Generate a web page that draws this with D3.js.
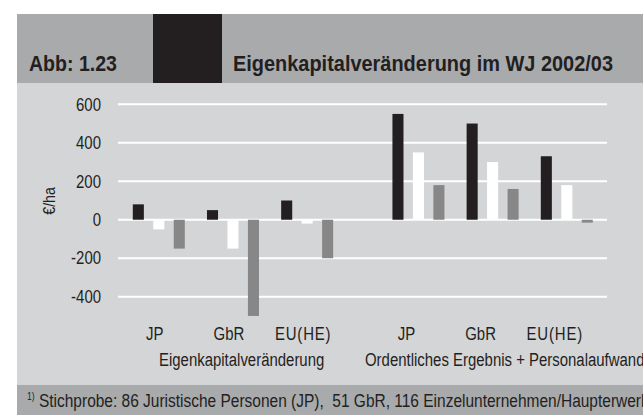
<!DOCTYPE html>
<html>
<head>
<meta charset="utf-8">
<script src="https://cdn.jsdelivr.net/npm/d3@7"></script>
<style>
  body { margin: 0; background: #fff; }
  svg text { font-family: "Liberation Sans", Arial, sans-serif; }
</style>
</head>
<body>
<svg id="chart" width="643" height="415"></svg>
<script>
// data
const groups = ['JP', 'GbR', 'EU(HE)', 'JP', 'GbR', 'EU(HE)'];
const sections = ['Eigenkapitalveränderung', 'Ordentliches Ergebnis + Personalaufwand'];
const series = ['s1', 's2', 's3'];
const valuesS1 = [80, 50, 100, 550, 500, 330];
const valuesS2 = [-50, -150, -20, 350, 300, 180];
const valuesS3 = [-150, -500, -200, 180, 160, -15];
const yTicks = [600, 400, 200, 0, -200, -400];

const colors = { s1: '#231f20', s2: '#ffffff', s3: '#878787' };

const svg = d3.select('#chart');
const W = 643;

// no narrow font installed, so squeeze the glyphs horizontally
const condense = (sel, k = 0.83) =>
  sel.each(function () {
    const w = this.getComputedTextLength();
    d3.select(this).attr('textLength', w * k).attr('lengthAdjust', 'spacingAndGlyphs');
  });

// panels
svg.append('rect').attr('x', 17).attr('y', 14).attr('width', W - 17).attr('height', 69).attr('fill', '#a9aaac');
svg.append('rect').attr('x', 153).attr('y', 14).attr('width', 69).attr('height', 69).attr('fill', '#231f20');
svg.append('rect').attr('x', 17).attr('y', 83).attr('width', W - 17).attr('height', 302).attr('fill', '#d4d5d7');
svg.append('rect').attr('x', 17).attr('y', 385).attr('width', W - 17).attr('height', 30).attr('fill', '#a9aaac');

svg.append('text').attr('x', 29).attr('y', 71)
  .attr('font-size', 22).attr('font-weight', 'bold').attr('fill', '#231f20')
  .attr('textLength', 88).attr('lengthAdjust', 'spacingAndGlyphs')
  .text('Abb: 1.23');
svg.append('text').attr('x', 233).attr('y', 71)
  .attr('font-size', 22).attr('font-weight', 'bold').attr('fill', '#231f20')
  .attr('textLength', 380).attr('lengthAdjust', 'spacingAndGlyphs')
  .text('Eigenkapitalveränderung im WJ 2002/03');

// scales
const y = d3.scaleLinear().domain([-400, 600]).range([296.7, 104.3]);
// slot index with an extra half-step gap between the two sections
const slot = i => i + (i >= 3 ? 0.5 : 0);
const x0 = d3.scaleLinear().domain([0, 5.5]).range([158.8, 566.8]);
const x1 = d3.scaleBand().domain(series).range([-26, 26]).paddingInner(0.46);

// grid
svg.append('g')
  .selectAll('line')
  .data(yTicks)
  .join('line')
  .attr('x1', 118).attr('x2', 607)
  .attr('y1', d => y(d)).attr('y2', d => y(d))
  .attr('stroke', '#fff').attr('stroke-width', 2);

const yAxis = svg.append('g').attr('transform', 'translate(101,0)')
  .call(d3.axisLeft(y).tickValues(yTicks).tickFormat(d => String(d)).tickSize(0).tickPadding(0));
yAxis.select('.domain').remove();
yAxis.selectAll('text')
  .attr('font-size', 18).attr('fill', '#231f20')
  .attr('font-family', '"Liberation Sans", Arial, sans-serif')
  .call(condense);

svg.append('text')
  .attr('transform', 'translate(55,201) rotate(-90)')
  .attr('text-anchor', 'middle')
  .attr('font-size', 17).attr('fill', '#231f20')
  .text('€/ha')
  .call(condense);

// bars
const rows = groups.map((g, i) => ({ i, s1: valuesS1[i], s2: valuesS2[i], s3: valuesS3[i] }));

svg.append('g')
  .selectAll('g')
  .data(rows)
  .join('g')
  .attr('transform', d => `translate(${x0(slot(d.i))},0)`)
  .selectAll('rect')
  .data(d => series.map(k => ({ key: k, value: d[k] })))
  .join('rect')
  .attr('x', d => x1(d.key))
  .attr('width', x1.bandwidth())
  .attr('y', d => y(Math.max(0, d.value)))
  .attr('height', d => Math.abs(y(d.value) - y(0)))
  .attr('fill', d => colors[d.key]);

// category labels
const labelShift = [-4, -12];
svg.append('g')
  .selectAll('text')
  .data(groups)
  .join('text')
  .attr('x', (d, i) => x0(slot(i)) + labelShift[i < 3 ? 0 : 1])
  .attr('y', 340)
  .attr('text-anchor', 'middle')
  .attr('font-size', 18).attr('fill', '#231f20')
  .attr('letter-spacing', d => d === 'EU(HE)' ? 1 : 0)
  .text(d => d)
  .call(condense);

const sectionStarts = [159, 365];
svg.append('g')
  .selectAll('text')
  .data(sections)
  .join('text')
  .attr('x', (d, i) => sectionStarts[i])
  .attr('y', 366)
  .attr('font-size', 18).attr('fill', '#231f20')
  .text(d => d)
  .call(condense);

// footnote
const foot = svg.append('text').attr('x', 27).attr('y', 407)
  .attr('font-size', 18).attr('fill', '#231f20')
  .style('white-space', 'pre');
foot.append('tspan').attr('font-size', 10).attr('dy', -7).text('1)');
foot.append('tspan').attr('dy', 7).text(' Stichprobe: 86 Juristische Personen (JP),  51 GbR, 116 Einzelunternehmen/Haupterwerb');
foot.call(condense, 0.86);
</script>
</body>
</html>
